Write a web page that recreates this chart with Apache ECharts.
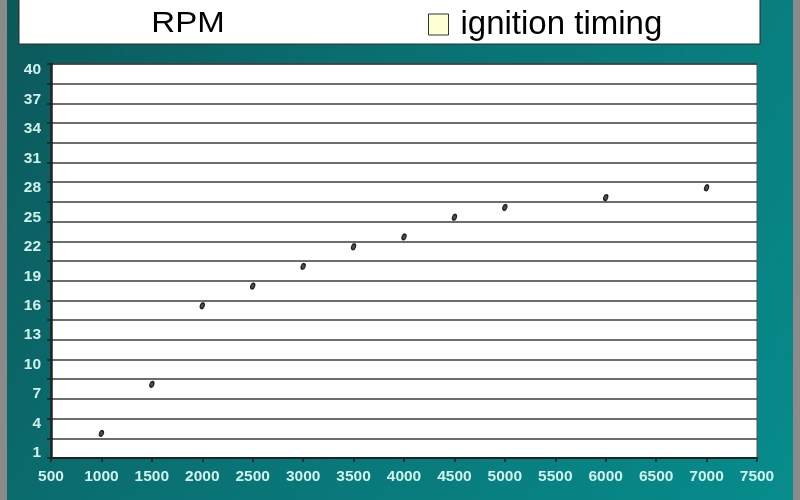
<!DOCTYPE html>
<html>
<head>
<meta charset="utf-8">
<script src="https://cdn.jsdelivr.net/npm/echarts@6/dist/echarts.min.js"></script>
<style>
html,body{margin:0;padding:0;background:#8a8a8a;}
#chart{width:800px;height:500px;}
</style>
</head>
<body>
<div id="chart"></div>
<script>
// Data
const rpm = [1000, 1500, 2000, 2500, 3000, 3500, 4000, 4500, 5000, 6000, 7000];
const ignitionTiming = [3, 8, 16, 18, 20, 22, 23, 25, 26, 27, 28];
const yTickLabels = [1, 4, 7, 10, 13, 16, 19, 22, 25, 28, 31, 34, 37, 40];
const xTickLabels = [500, 1000, 1500, 2000, 2500, 3000, 3500, 4000, 4500, 5000, 5500, 6000, 6500, 7000, 7500];
const seriesName = 'ignition timing';
const xTitle = 'RPM';

const chart = echarts.init(document.getElementById('chart'), null, {renderer: 'canvas'});
const labelColor = '#d0f0ec';
const labelFont = 'Liberation Sans, Arial, sans-serif';

const option = {
  backgroundColor: '#8a8a8a',
  animation: false,
  graphic: [
    {
      type: 'rect', z: -10, silent: true,
      shape: {x: 7, y: 0, width: 786, height: 500},
      style: {
        fill: new echarts.graphic.LinearGradient(0, 0, 1, 1, [
          {offset: 0, color: '#0b585a'},
          {offset: 0.35, color: '#0a6e70'},
          {offset: 1, color: '#078c8c'}
        ])
      }
    },
    {
      type: 'rect', z: -5, silent: true,
      shape: {x: 19, y: -2, width: 741, height: 46},
      style: {fill: '#ffffff', stroke: '#2a2a2a', lineWidth: 1}
    },
    {
      type: 'text', z: 10, silent: true,
      x: 188, y: 24,
      scaleX: 1.1,
      style: {
        text: xTitle, font: '30px Liberation Sans, Arial, sans-serif',
        fill: '#000', align: 'center', verticalAlign: 'middle'
      }
    }
  ],
  legend: {
    data: [{name: seriesName, icon: 'rect',
      itemStyle: {color: '#ffffcc', borderColor: '#000', borderWidth: 1}}],
    left: 423, top: 3,
    itemWidth: 20, itemHeight: 21, itemGap: 6,
    textStyle: {fontSize: 33, color: '#000', fontFamily: labelFont, padding: [0, 0, 0, 7]}
  },
  grid: {
    left: 51, right: 43, top: 64, bottom: 42,
    show: true, backgroundColor: '#ffffff', borderColor: '#555', borderWidth: 1
  },
  xAxis: {
    type: 'value', min: xTickLabels[0], max: xTickLabels[xTickLabels.length - 1], interval: 500,
    axisLine: {show: true, onZero: false, lineStyle: {color: '#222', width: 2}},
    axisTick: {show: true, length: 4, inside: false, lineStyle: {color: '#222', width: 1.5}},
    splitLine: {show: false},
    axisLabel: {color: labelColor, fontSize: 15.5, fontWeight: 'bold', fontFamily: labelFont, margin: 11,
      formatter: v => String(v)}
  },
  yAxis: [
    {
      type: 'value', min: 0.5, max: 40.6,
      axisLine: {show: true, lineStyle: {color: '#222', width: 2.5}},
      axisTick: {show: false},
      splitLine: {show: false},
      axisLabel: {customValues: yTickLabels, color: labelColor, fontSize: 15.5, fontWeight: 'bold',
        fontFamily: labelFont, margin: 10, formatter: v => String(v)}
    },
    {
      type: 'value', min: 0, max: 20, interval: 1, position: 'left',
      axisLine: {show: false},
      axisTick: {show: true, length: 4, lineStyle: {color: '#222', width: 1.5}},
      axisLabel: {show: false},
      splitLine: {show: true, lineStyle: {color: '#3c3c3c', width: 1.6}}
    }
  ],
  series: [
    {
      name: seriesName,
      type: 'scatter',
      yAxisIndex: 0,
      data: rpm.map((r, i) => [r, ignitionTiming[i]]),
      symbol: 'circle',
      symbolSize: [4, 6],
      symbolRotate: -20,
      itemStyle: {color: '#222', borderColor: '#000', borderWidth: 1.2},
      z: 5
    }
  ]
};
chart.setOption(option);
</script>
</body>
</html>
